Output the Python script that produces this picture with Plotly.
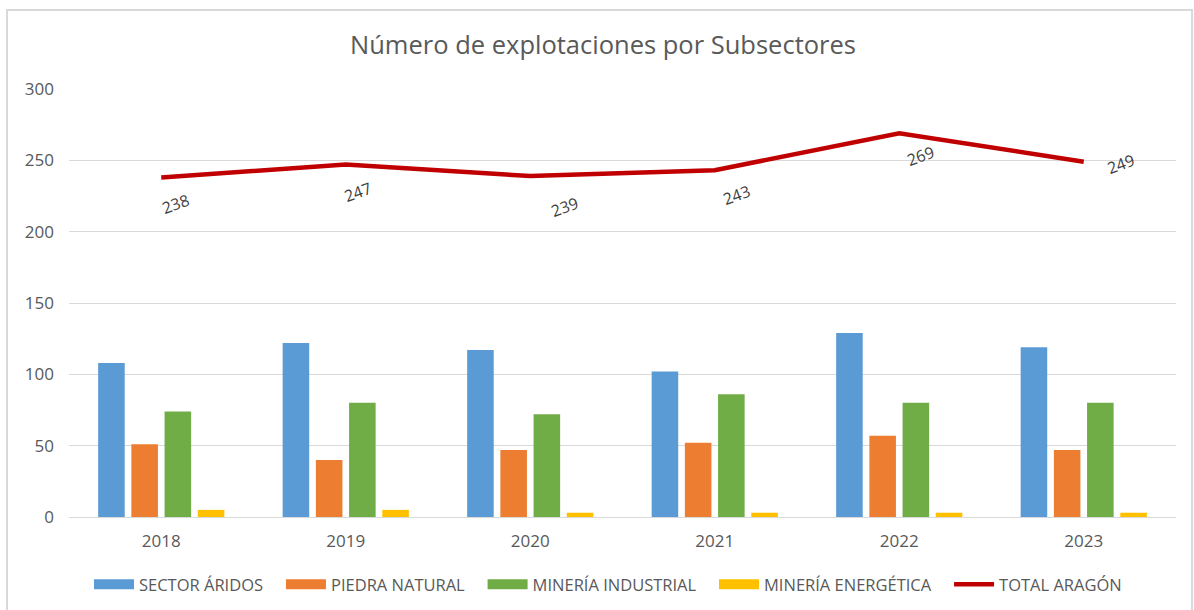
import plotly.graph_objects as go

years = ["2018", "2019", "2020", "2021", "2022", "2023"]
aridos = [108, 122, 117, 102, 129, 119]
piedra = [51, 40, 47, 52, 57, 47]
industrial = [74, 80, 72, 86, 80, 80]
energetica = [5, 5, 3, 3, 3, 3]
total = [238, 247, 239, 243, 269, 249]

series_names = ["SECTOR ÁRIDOS", "PIEDRA NATURAL", "MINERÍA INDUSTRIAL", "MINERÍA ENERGÉTICA"]
line_name = "TOTAL ARAGÓN"
series_vals = [aridos, piedra, industrial, energetica]
colors = ["#5b9bd5", "#ed7d31", "#70ad47", "#ffc000"]
line_color = "#c00000"

# label offsets (px) for the total line data labels
label_dx = [14, 12, 34, 22, 21, 37]
label_dy = [27, 27, 31, 25, 23, 2]

FONT = "Open Sans, Noto Sans, sans-serif"
PAD = "\u00a0\u00a0\u00a0"

fig = go.Figure()
for name, vals, c in zip(series_names, series_vals, colors):
    fig.add_trace(go.Bar(x=years, y=vals, name=name, marker=dict(color=c, line=dict(width=0)),
                         showlegend=False))
fig.add_trace(go.Scatter(x=years, y=total, mode="lines", name=line_name,
                         line=dict(color=line_color, width=4.5), showlegend=False))

# legend entries (wide swatches like the original)
for name, c in zip(series_names, colors):
    fig.add_trace(go.Scatter(x=[years[0]], y=[None], mode="lines", name=name + PAD,
                             line=dict(color=c, width=10)))
fig.add_trace(go.Scatter(x=[years[0]], y=[None], mode="lines", name=line_name,
                         line=dict(color=line_color, width=4.5)))

for i, (v, dx, dy) in enumerate(zip(total, label_dx, label_dy)):
    fig.add_annotation(x=i, y=v, xref="x", yref="y", text=str(v), showarrow=False,
                       textangle=-20, xshift=dx, yshift=-dy,
                       font=dict(family=FONT, size=16, color="#404040"))

L, R, T, B = 69, 18, 89, 92.5
W, H = 1194, 610
pw, ph = W - L - R, H - T - B

def px_x(p):
    return (p - L) / pw

def px_y(p):
    return (H - B - p) / ph

fig.add_shape(type="rect", xref="paper", yref="paper",
              x0=px_x(7), x1=px_x(1192), y0=px_y(612), y1=px_y(10),
              line=dict(color="#d9d9d9", width=2), fillcolor="rgba(0,0,0,0)", layer="below")

fig.update_layout(
    width=W, height=H,
    margin=dict(l=L, r=R, t=T, b=B, autoexpand=False),
    paper_bgcolor="white", plot_bgcolor="white",
    barmode="group", bargap=0.28, bargroupgap=0.2,
    title=dict(text="Número de explotaciones por Subsectores", x=px_x(603), xref="paper",
               xanchor="center", y=1 - 45 / H, yanchor="middle",
               font=dict(family=FONT, size=25.5, color="#595959")),
    font=dict(family=FONT, color="#595959"),
    legend=dict(orientation="h", x=px_x(608), xanchor="center", y=px_y(585), yanchor="middle",
                font=dict(family=FONT, size=16.5, color="#595959"), itemwidth=40,
                bgcolor="rgba(0,0,0,0)", traceorder="normal"),
    xaxis=dict(type="category", categoryorder="array", categoryarray=years,
               range=[-0.5, len(years) - 0.5], autorange=False,
               showgrid=False, showline=False, ticks="",
               tickfont=dict(family=FONT, size=17, color="#595959"), ticklabelstandoff=12,
               fixedrange=True),
    yaxis=dict(range=[0, 300], autorange=False, tickvals=[0, 50, 100, 150, 200, 250, 300],
               showgrid=True, gridcolor="#d9d9d9", gridwidth=1.3,
               zeroline=True, zerolinecolor="#d9d9d9", zerolinewidth=1.3,
               showline=False, ticks="", ticklabelstandoff=14,
               tickfont=dict(family=FONT, size=17, color="#595959"), fixedrange=True),
)

fig.write_html("out.html", config={"displayModeBar": False},
               post_script="document.body.style.margin='0';")
